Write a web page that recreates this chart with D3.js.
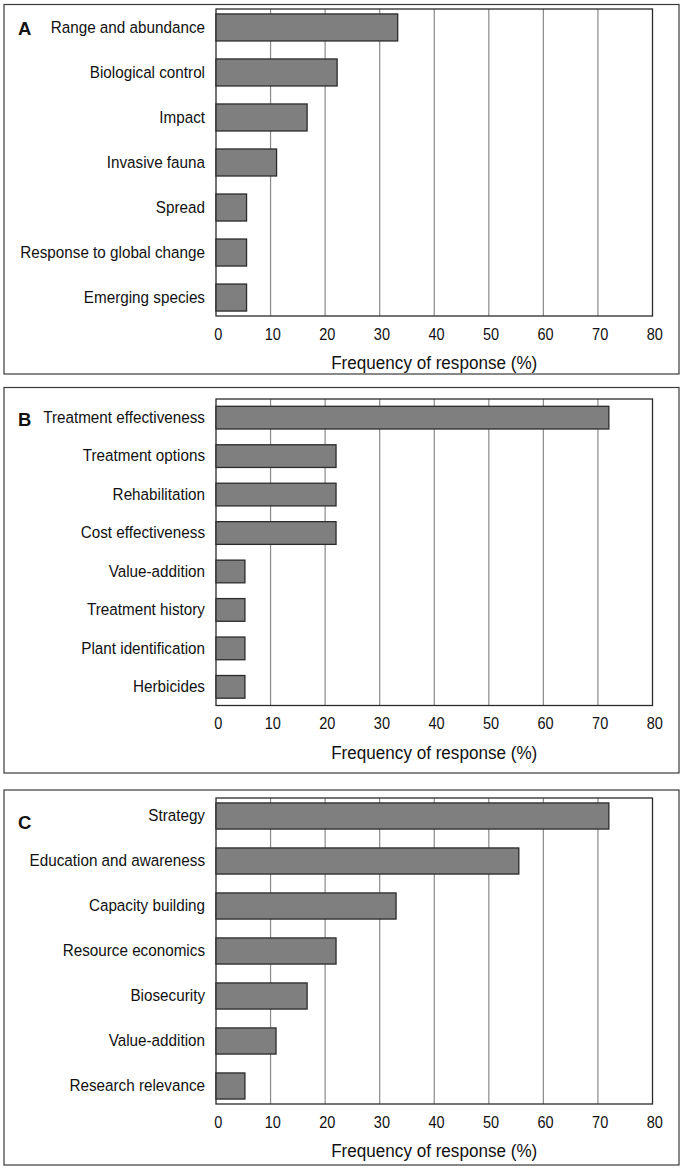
<!DOCTYPE html>
<html>
<head>
<meta charset="utf-8">
<script src="https://cdn.jsdelivr.net/npm/d3@7"></script>
<style>
  html, body { margin: 0; padding: 0; background: #fff; }
  svg { display: block; }
</style>
</head>
<body>
<svg id="chart" width="685" height="1168"></svg>
<script>
// ---- Data ----
const panelLetters = ["A", "B", "C"];

const categoriesA = ["Range and abundance", "Biological control", "Impact", "Invasive fauna",
                     "Spread", "Response to global change", "Emerging species"];
const valuesA = [33.3, 22.2, 16.7, 11.1, 5.6, 5.6, 5.6];

const categoriesB = ["Treatment effectiveness", "Treatment options", "Rehabilitation",
                     "Cost effectiveness", "Value-addition", "Treatment history",
                     "Plant identification", "Herbicides"];
const valuesB = [72.0, 22.0, 22.0, 22.0, 5.3, 5.3, 5.3, 5.3];

const categoriesC = ["Strategy", "Education and awareness", "Capacity building",
                     "Resource economics", "Biosecurity", "Value-addition", "Research relevance"];
const valuesC = [72.0, 55.5, 33.0, 22.0, 16.7, 11.0, 5.3];

const xTicks = [0, 10, 20, 30, 40, 50, 60, 70, 80];
const xDomain = [0, 80];
const xTitle = "Frequency of response (%)";

// ---- Layout (styling only) ----
const layout = [
  { box: [4, 4.5, 679, 374],  plot: [9, 316],     pi: 0.40, po: 0.11, letterDy: 8 },
  { box: [4, 387.5, 679, 773], plot: [399, 705.5], pi: 0.41, po: 0.19, letterDy: 8 },
  { box: [4, 790, 679, 1165], plot: [798, 1104],   pi: 0.42, po: 0.11, letterDy: 13 }
];
const plotX = [216, 652.5];
const FONT = "'Liberation Sans', Arial, Helvetica, sans-serif";
const S = { lab: 16.5, labSx: 0.925, tick: 16.5, tickSx: 0.88, title: 18.5, titleSx: 0.925 };

const svg = d3.select("#chart");
const x = d3.scaleLinear().domain(xDomain).range(plotX);

const panels = [
  { cats: categoriesA, vals: valuesA },
  { cats: categoriesB, vals: valuesB },
  { cats: categoriesC, vals: valuesC }
];

panels.forEach((p, i) => {
  const L = layout[i];
  const g = svg.append("g").attr("font-family", FONT);

  g.append("rect")
    .attr("x", L.box[0]).attr("y", L.box[1])
    .attr("width", L.box[2] - L.box[0]).attr("height", L.box[3] - L.box[1])
    .attr("fill", "none").attr("stroke", "#3a3a3a").attr("stroke-width", 1.2);

  const y = d3.scaleBand().domain(p.cats).range(L.plot)
    .paddingInner(L.pi).paddingOuter(L.po);

  g.append("g").selectAll("line")
    .data(xTicks.filter(t => t > xDomain[0] && t < xDomain[1]))
    .join("line")
    .attr("x1", d => x(d)).attr("x2", d => x(d))
    .attr("y1", L.plot[0]).attr("y2", L.plot[1])
    .attr("stroke", "#8a8a8a").attr("stroke-width", 1.2);

  g.append("rect")
    .attr("x", plotX[0]).attr("y", L.plot[0])
    .attr("width", plotX[1] - plotX[0]).attr("height", L.plot[1] - L.plot[0])
    .attr("fill", "none").attr("stroke", "#2a2a2a").attr("stroke-width", 1.3);

  g.append("g").selectAll("rect")
    .data(p.cats.map((c, k) => ({ c, v: p.vals[k] })))
    .join("rect")
    .attr("x", x(0))
    .attr("y", d => y(d.c))
    .attr("width", d => x(d.v) - x(0))
    .attr("height", y.bandwidth())
    .attr("fill", "#7f7f7f")
    .attr("stroke", "#2b2b2b").attr("stroke-width", 1.3);

  // category labels (horizontally condensed)
  const yAxis = d3.axisLeft(y).tickSize(0).tickPadding(11 / S.labSx);
  const ya = g.append("g").attr("transform", `translate(${plotX[0]},0)`).call(yAxis);
  ya.select(".domain").remove();
  ya.attr("font-family", FONT);
  ya.selectAll("text").attr("font-size", S.lab).attr("fill", "#111")
    .attr("transform", `scale(${S.labSx},1)`);

  // x tick labels
  const xAxis = d3.axisBottom(x).tickValues(xTicks).tickSize(0).tickPadding(12);
  const xa = g.append("g").attr("transform", `translate(0,${L.plot[1]})`).call(xAxis);
  xa.select(".domain").remove();
  xa.attr("font-family", FONT);
  xa.selectAll("text").attr("font-size", S.tick).attr("fill", "#111")
    .attr("dx", "0.12em")
    .attr("transform", `scale(${S.tickSx},1)`);

  // x title
  g.append("text")
    .attr("transform", `translate(${(plotX[0] + plotX[1]) / 2},${L.plot[1] + 53}) scale(${S.titleSx},1)`)
    .attr("text-anchor", "middle")
    .attr("font-size", S.title).attr("fill", "#111")
    .text(xTitle);

  // panel letter
  g.append("text")
    .attr("x", 18)
    .attr("y", y(p.cats[0]) + y.bandwidth() / 2 + L.letterDy)
    .attr("font-size", 18.5).attr("font-weight", "bold").attr("fill", "#111")
    .text(panelLetters[i]);
});
</script>
</body>
</html>
